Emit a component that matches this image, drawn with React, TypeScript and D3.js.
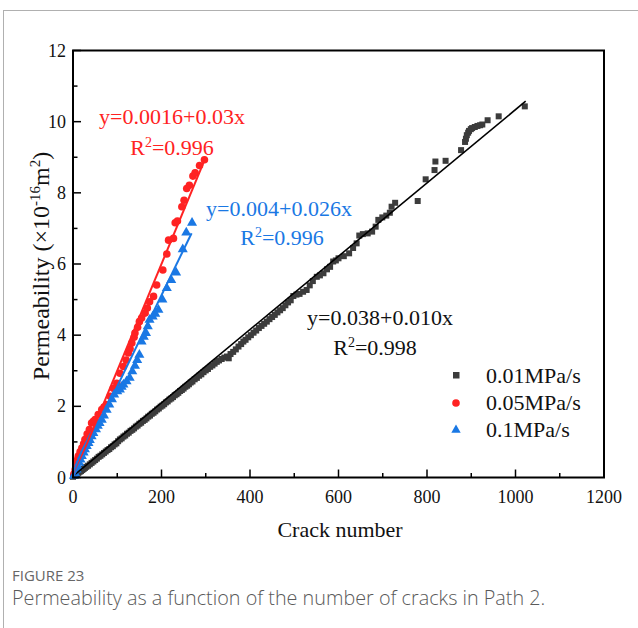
import React from "react";
import * as d3 from "d3";

const W = 638;
const H = 628;

const xTicks = [0, 200, 400, 600, 800, 1000, 1200];
const yTicks = [0, 2, 4, 6, 8, 10, 12];
const xMinor = [100, 300, 500, 700, 900, 1100];
const yMinor = [1, 3, 5, 7, 9, 11];

const seriesNames = ["0.01MPa/s", "0.05MPa/s", "0.1MPa/s"];

// Loading rate 0.01 MPa/s: [crack number, permeability ×10^-16 m²]
const rate001: [number, number][] = [
  [0, 0.02], [3, 0.05], [6, 0.08], [9, 0.1], [12, 0.13], [15, 0.16], [18, 0.18], [21, 0.21],
  [24, 0.24], [27, 0.27], [30, 0.3], [34, 0.33], [38, 0.37], [42, 0.41], [46, 0.45], [50, 0.49],
  [54, 0.53], [58, 0.58], [62, 0.61], [66, 0.65], [70, 0.69], [74, 0.73], [78, 0.77], [82, 0.8],
  [86, 0.85], [90, 0.88], [94, 0.93], [98, 0.96], [102, 1.02], [106, 1.07], [110, 1.1], [114, 1.15],
  [118, 1.18], [122, 1.23], [126, 1.26], [130, 1.31], [134, 1.34], [138, 1.38], [142, 1.43],
  [146, 1.46], [150, 1.51], [154, 1.54], [158, 1.59], [162, 1.62], [166, 1.66], [170, 1.71],
  [174, 1.74], [178, 1.79], [182, 1.82], [186, 1.86], [190, 1.91], [194, 1.94], [198, 1.99],
  [202, 2.02], [206, 2.06], [210, 2.11], [214, 2.14], [218, 2.19], [222, 2.22], [226, 2.26],
  [230, 2.31], [234, 2.34], [238, 2.38], [242, 2.43], [246, 2.46], [250, 2.5], [254, 2.55],
  [258, 2.58], [262, 2.62], [266, 2.67], [270, 2.7], [275, 2.76], [280, 2.8], [285, 2.86],
  [290, 2.9], [295, 2.96], [300, 3.01], [305, 3.05], [310, 3.11], [315, 3.15], [320, 3.2],
  [325, 3.25], [330, 3.29], [336, 3.33], [342, 3.37], [348, 3.4], [352, 3.35], [356, 3.47],
  [362, 3.53], [368, 3.6], [374, 3.68], [380, 3.75], [385, 3.82], [390, 3.87], [396, 3.94],
  [402, 4.0], [408, 4.07], [414, 4.13], [420, 4.2], [426, 4.26], [432, 4.32], [438, 4.38],
  [444, 4.45], [450, 4.51], [456, 4.57], [462, 4.64], [468, 4.7], [474, 4.76], [480, 4.84],
  [486, 4.92], [492, 4.98], [498, 5.1], [505, 5.14], [512, 5.16], [520, 5.22], [528, 5.27],
  [535, 5.4], [542, 5.52], [551, 5.64], [558, 5.68], [566, 5.74], [574, 5.85], [581, 5.92],
  [588, 6.07], [594, 6.1], [600, 6.16], [612, 6.22], [624, 6.3], [633, 6.45], [641, 6.58],
  [647, 6.8], [655, 6.84], [666, 6.86], [676, 6.91], [684, 7.05], [690, 7.24], [699, 7.31],
  [708, 7.36], [716, 7.44], [720, 7.61], [728, 7.72], [779, 7.77], [797, 8.38], [817, 8.64],
  [819, 8.88], [842, 8.9], [877, 9.2], [886, 9.43], [888, 9.52], [890, 9.62], [893, 9.69],
  [895, 9.74], [899, 9.79], [902, 9.82], [908, 9.85], [914, 9.88], [920, 9.9], [925, 9.92],
  [937, 10.04], [962, 10.15], [1021, 10.43],
];

// Loading rate 0.05 MPa/s
const rate005: [number, number][] = [
  [2, 0.1], [5, 0.22], [7, 0.41], [10, 0.5], [12, 0.6], [16, 0.72], [20, 0.83], [24, 0.95],
  [27, 1.07], [32, 1.22], [37, 1.35], [42, 1.53], [46, 1.58], [50, 1.63], [57, 1.77], [65, 1.91],
  [70, 1.98], [76, 2.05], [84, 2.28], [91, 2.51], [99, 2.65], [106, 2.93], [114, 3.12], [120, 3.3],
  [125, 3.5], [129, 3.62], [133, 3.78], [138, 3.94], [140, 4.06], [146, 4.22], [150, 4.38],
  [155, 4.48], [163, 4.62], [168, 4.76], [173, 4.94], [182, 5.09], [189, 5.41], [203, 5.83],
  [212, 6.28], [216, 6.67], [227, 6.72], [231, 7.16], [236, 7.21], [246, 7.61], [251, 7.79],
  [257, 8.12], [263, 8.21], [271, 8.47], [276, 8.56], [286, 8.77], [297, 8.93],
];

// Loading rate 0.1 MPa/s
const rate01: [number, number][] = [
  [2, 0.05], [5, 0.12], [8, 0.22], [11, 0.3], [14, 0.41], [17, 0.5], [20, 0.6], [24, 0.7],
  [27, 0.79], [31, 0.88], [35, 0.97], [38, 1.05], [42, 1.16], [46, 1.25], [52, 1.35], [56, 1.45],
  [60, 1.53], [65, 1.62], [70, 1.74], [76, 1.9], [82, 2.05], [88, 2.2], [93, 2.33], [100, 2.42],
  [106, 2.47], [110, 2.55], [114, 2.61], [121, 2.7], [128, 2.8], [134, 2.98], [140, 3.14],
  [145, 3.3], [150, 3.45], [155, 3.82], [160, 3.95], [165, 4.06], [169, 4.25], [173, 4.43],
  [180, 4.52], [186, 4.6], [193, 4.71], [202, 5.0], [212, 5.32], [222, 5.55], [233, 5.76],
  [248, 6.41], [256, 6.88], [269, 7.16],
];

// Linear fits: intercept, slope, extent of the fitted line
const fit001 = { a: 0.038, b: 0.0103, xMax: 1023 };
const fit005 = { a: 0.0016, b: 0.03, xMax: 297 };
const fit01 = { a: 0.004, b: 0.0256, xMax: 268 };

const fitLabels = [
  { eq: "y=0.0016+0.03x", r2: "0.996" },
  { eq: "y=0.004+0.026x", r2: "0.996" },
  { eq: "y=0.038+0.010x", r2: "0.998" },
];

const RED = "#ff2222";
const BLUE = "#1a78e4";
const GRAY = "#3c3c3c";
const SERIF = "'Liberation Serif', 'Times New Roman', serif";
const SANS = "'Open Sans', 'Noto Sans', sans-serif";

export default function App() {
  const x = d3.scaleLinear().domain([0, 1200]).range([73, 604]);
  const y = d3.scaleLinear().domain([0, 12]).range([477.5, 50.5]);

  const fitPath = (f: { a: number; b: number; xMax: number }) =>
    d3.line()([
      [x(0), y(f.a)],
      [x(f.xMax), y(f.a + f.b * f.xMax)],
    ]) as string;

  const tri = d3.symbol(d3.symbolTriangle, 44)() as string;
  const triSmall = d3.symbol(d3.symbolTriangle, 38)() as string;

  const x0 = x(0), x1 = x(1200), y0 = y(0), y1 = y(12);

  return (
    <svg
      width={W}
      height={H}
      viewBox={`0 0 ${W} ${H}`}
      style={{ position: "absolute", left: 0, top: 0, background: "#fff" }}
    >
      <rect x={3.5} y={10.5} width={W + 20} height={H + 20} fill="none" stroke="#b0b0b0" strokeWidth={1} />

      {/* markers */}
      <g fill={GRAY}>
        {rate001.map(([a, b], i) => (
          <rect key={i} x={x(a) - 3} y={y(b) - 3} width={6} height={6} />
        ))}
      </g>
      <g fill={RED}>
        {rate005.map(([a, b], i) => (
          <circle key={i} cx={x(a)} cy={y(b)} r={3.8} />
        ))}
      </g>
      <g fill={BLUE}>
        {rate01.map(([a, b], i) => (
          <path key={i} d={tri} transform={`translate(${x(a)},${y(b)})`} />
        ))}
      </g>

      {/* fitted lines */}
      <path d={fitPath(fit001)} stroke="#000" strokeWidth={1.6} fill="none" />
      <path d={fitPath(fit005)} stroke={RED} strokeWidth={2} fill="none" />
      <path d={fitPath(fit01)} stroke={BLUE} strokeWidth={2} fill="none" />

      {/* frame */}
      <rect x={x0} y={y1} width={x1 - x0} height={y0 - y1} fill="none" stroke="#000" strokeWidth={2} />

      {/* ticks */}
      <g stroke="#000" strokeWidth={1.5}>
        {xTicks.map((t) => (
          <line key={"xt" + t} x1={x(t)} x2={x(t)} y1={y0} y2={y0 - 8} />
        ))}
        {xMinor.map((t) => (
          <line key={"xm" + t} x1={x(t)} x2={x(t)} y1={y0} y2={y0 - 4.5} />
        ))}
        {yTicks.map((t) => (
          <line key={"yt" + t} x1={x0} x2={x0 + 8} y1={y(t)} y2={y(t)} />
        ))}
        {yMinor.map((t) => (
          <line key={"ym" + t} x1={x0} x2={x0 + 4.5} y1={y(t)} y2={y(t)} />
        ))}
      </g>

      {/* tick labels */}
      <g fontFamily={SERIF} fontSize={18} fill="#111">
        {xTicks.map((t) => (
          <text key={"xl" + t} x={x(t)} y={503} textAnchor="middle">
            {t}
          </text>
        ))}
        {yTicks.map((t) => (
          <text key={"yl" + t} x={66} y={y(t) + 6} textAnchor="end">
            {t}
          </text>
        ))}
      </g>

      {/* axis titles */}
      <text x={340} y={537} textAnchor="middle" fontFamily={SERIF} fontSize={22} fill="#111">
        Crack number
      </text>
      <text
        transform="translate(49,266) rotate(-90)"
        textAnchor="middle"
        fontFamily={SERIF}
        fontSize={24}
        fill="#111"
      >
        Permeability (×10
        <tspan dy={-9} fontSize={15}>-16</tspan>
        <tspan dy={9}>m</tspan>
        <tspan dy={-9} fontSize={15}>2</tspan>
        <tspan dy={9}>)</tspan>
      </text>

      {/* fit annotations */}
      <g fontFamily={SERIF} fontSize={22} textAnchor="middle">
        <text x={172} y={124} fill={RED}>{fitLabels[0].eq}</text>
        <text x={172} y={155} fill={RED}>
          R<tspan dy={-8} fontSize={14}>2</tspan>
          <tspan dy={8}>={fitLabels[0].r2}</tspan>
        </text>
        <text x={279} y={216} fill={BLUE}>{fitLabels[1].eq}</text>
        <text x={282} y={245} fill={BLUE}>
          R<tspan dy={-8} fontSize={14}>2</tspan>
          <tspan dy={8}>={fitLabels[1].r2}</tspan>
        </text>
        <text x={380} y={325} fill="#111">{fitLabels[2].eq}</text>
        <text x={375} y={355} fill="#111">
          R<tspan dy={-8} fontSize={14}>2</tspan>
          <tspan dy={8}>={fitLabels[2].r2}</tspan>
        </text>
      </g>

      {/* legend */}
      <g fontFamily={SERIF} fontSize={22} fill="#111">
        <rect x={453} y={372} width={6.5} height={6.5} fill={GRAY} />
        <text x={486} y={383}>{seriesNames[0]}</text>
        <circle cx={456} cy={403} r={3.8} fill={RED} />
        <text x={486} y={410}>{seriesNames[1]}</text>
        <path d={triSmall} transform="translate(456,430)" fill={BLUE} />
        <text x={486} y={437}>{seriesNames[2]}</text>
      </g>

      {/* caption */}
      <text x={12} y={581} fontFamily={SANS} fontSize={15} fill="#666">
        FIGURE 23
      </text>
      <text x={12} y={605} fontFamily={SANS} fontSize={19.8} fontWeight={300} fill="#5a5a5a">
        Permeability as a function of the number of cracks in Path 2.
      </text>
    </svg>
  );
}
